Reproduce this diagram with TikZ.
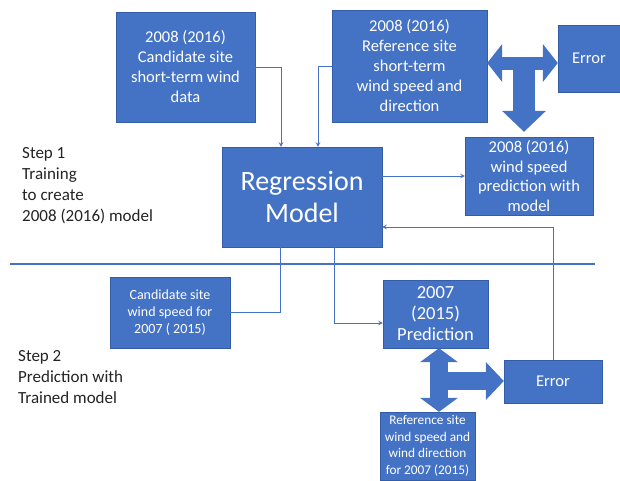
\documentclass[tikz,border=0pt]{standalone}
\usepackage{fontspec}
\setmainfont{Carlito}
\usetikzlibrary{arrows.meta, positioning}
\definecolor{boxblue}{RGB}{68, 114, 196}
\definecolor{boxedge}{RGB}{52, 93, 168}
\definecolor{lineblue}{RGB}{68, 114, 196}
\definecolor{textgray}{RGB}{35, 35, 35}

\begin{document}
\begin{tikzpicture}[
            x=1pt, y=-1pt,
            box/.style={draw=boxedge, fill=boxblue, text=white, align=center, inner sep=1pt, font=\fontsize{16.5}{20}\selectfont},
            smallbox/.style={box, font=\fontsize{14}{17}\selectfont},
            steplabel/.style={anchor=west, align=left, inner sep=0pt, text=textgray, font=\fontsize{17}{21}\selectfont},
            conn/.style={->, >=stealth, draw=lineblue, line width=1pt},
            blockarr/.style={draw=boxblue}
        ]
            \useasboundingbox (0,0) rectangle (620,480);

            \node[box, minimum width=139pt, minimum height=110pt] (cand) at (185.5,67) {2008 (2016)\\Candidate site\\short-term wind\\data};
            \node[box, minimum width=155pt, minimum height=112pt] (refer) at (409.5,66) {2008 (2016)\\Reference site\\short-term\\wind speed and\\direction};
            \node[box, minimum width=62pt, minimum height=67pt] (errA) at (589,58.5) {Error};
            \node[box, minimum width=128pt, minimum height=78pt, font=\fontsize{16.5}{19.5}\selectfont] (predA) at (529,176) {2008 (2016)\\wind speed\\prediction with\\model};
            \node[box, minimum width=160pt, minimum height=100pt, font=\fontsize{28}{32}\selectfont] (regr) at (302,197) {Regression\\Model};
            \node[smallbox, minimum width=120pt, minimum height=71pt] (candB) at (170,312.5) {Candidate site\\wind speed for\\2007 ( 2015)};
            \node[box, minimum width=105pt, minimum height=68pt, font=\fontsize{18.5}{21}\selectfont] (predB) at (435.5,314) {2007\\(2015)\\Prediction};
            \node[box, minimum width=98pt, minimum height=43pt] (errB) at (553,381.5) {Error};
            \node[smallbox, minimum width=95pt, minimum height=68pt, font=\fontsize{13.3}{16.5}\selectfont] (refB) at (427.5,446) {Reference site\\wind speed and\\wind direction\\for 2007 (2015)};

            \node[steplabel] (step1) at (22,186) {Step 1\\Training\\to create\\2008 (2016) model};
            \node[steplabel] (step2) at (18,377) {Step 2\\Prediction with\\Trained model};

            \coordinate (divL) at (10,264);
            \coordinate (divR) at (595,264);
            \draw[lineblue, line width=1.2pt] (divL) -- (divR);

            \draw[conn] (cand.east) -| ([xshift=-21pt]regr.north);
            \draw[conn] (refer.west) -| ([xshift=16pt]regr.north);
            \draw[conn] (regr.east |- predA.west) -- (predA.west);
            \draw[conn] (errB.north) |- ([yshift=-30pt]regr.east);
            \draw[lineblue, line width=1pt] (candB.east) -| ([xshift=-22pt]regr.south);
            \draw[conn] ([xshift=32pt]regr.south) |- ([yshift=-9pt]predB.west);

            \coordinate (tA) at (524,63);
            \draw[blockarr, line width=13pt, {Triangle[length=15pt, width=38pt, line width=0pt]}-{Triangle[length=15pt, width=38pt, line width=0pt]}] (refer.east |- tA) -- (errA.west |- tA);
            \draw[blockarr, line width=22pt, -{Triangle[length=21pt, width=44pt, line width=0pt]}] (tA) -- ([yshift=5pt]predA.north -| tA);

            \coordinate (tB) at (439,381);
            \draw[blockarr, line width=18pt, {Triangle[length=14pt, width=38pt, line width=0pt]}-{Triangle[length=14pt, width=38pt, line width=0pt]}] (predB.south -| tB) -- (refB.north -| tB);
            \draw[blockarr, line width=18pt, -{Triangle[length=18pt, width=38pt, line width=0pt]}] (tB) -- (errB.west |- tB);
        \end{tikzpicture}
\end{document}
